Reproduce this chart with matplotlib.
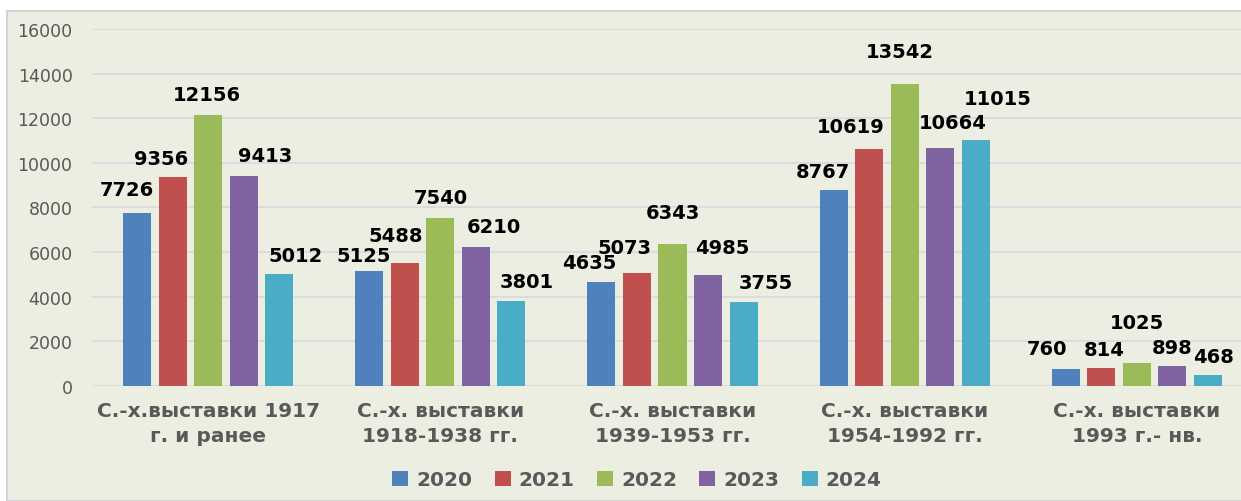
import numpy as np
import matplotlib
matplotlib.use('Agg')
import matplotlib.pyplot as plt
from matplotlib.patches import Rectangle, Patch

# Данные
categories = ['С.-х.выставки 1917\nг. и ранее', 'С.-х. выставки\n1918-1938 гг.',
              'С.-х. выставки\n1939-1953 гг.', 'С.-х. выставки\n1954-1992 гг.',
              'С.-х. выставки\n1993 г.- нв.']
years = ['2020', '2021', '2022', '2023', '2024']
v2020 = [7726, 5125, 4635, 8767, 760]
v2021 = [9356, 5488, 5073, 10619, 814]
v2022 = [12156, 7540, 6343, 13542, 1025]
v2023 = [9413, 6210, 4985, 10664, 898]
v2024 = [5012, 3801, 3755, 11015, 468]
series = [v2020, v2021, v2022, v2023, v2024]
colors = ['#4F81BD', '#C0504D', '#9BBB59', '#8064A2', '#4BACC6']

# смещения подписей (пиксели) - как в исходной диаграмме Excel
label_dx = [[-10, -5, -12, -11, -19], [-11, -9, -12, -18, 3], [-1, 1, 0, -5, 0],
            [21, 18, 14, 12, 0], [16, 15, 22, 22, 5]]
label_dy = [[24, 16, 20, 19, 20], [19, 28, 25, 22, 18], [20, 20, 32, 32, 40],
            [20, 21, 27, 25, 18], [18, 19, 19, 42, 19]]

W, H = 1241, 502
fig = plt.figure(figsize=(W / 100, H / 100), dpi=100)
fig.patch.set_facecolor('white')
bg = '#EBEEE0'
fig.patches.append(Rectangle((7 / W, 0), 1, 1 - 12 / H, transform=fig.transFigure,
                             facecolor=bg, edgecolor='#D4D4D4', lw=1.5, zorder=-5))

ax = fig.add_axes([92 / W, (H - 386.7) / H, 1161 / W, 356.7 / H])
ax.set_facecolor(bg)
ax.patch.set_alpha(0)

x = np.arange(len(categories))
pitch = 0.1533
width = 0.1206
for j, vals in enumerate(series):
    pos = x + (j - 2) * pitch
    ax.bar(pos, vals, width, color=colors[j], zorder=3, label=years[j])
    for i, v in enumerate(vals):
        ax.annotate(str(v), (pos[i], v), xytext=(label_dx[j][i], label_dy[j][i]),
                    textcoords='offset pixels', ha='center', va='center',
                    fontsize=14, fontweight='bold', color='black', zorder=4)

ax.set_xlim(-0.5, 4.5)
ax.set_ylim(0, 16000)
ax.set_yticks(range(0, 16001, 2000))
ax.grid(axis='y', color='#D9D9E0', lw=1.2, zorder=0)
for s in ax.spines.values():
    s.set_visible(False)
ax.tick_params(axis='y', length=0, pad=14, labelsize=12.5, labelcolor='#595959')
ax.tick_params(axis='x', length=0, pad=11, labelsize=14.5, labelcolor='#595959')
ax.set_xticks(x)
ax.set_xticklabels(categories, fontweight='bold', linespacing=1.4)

handles = [Patch(facecolor=c, label=y) for c, y in zip(colors, years)]
fig.legend(handles=handles, loc='center', bbox_to_anchor=(637 / W, 21 / H), ncol=5,
           frameon=False, handlelength=0.8, handleheight=0.8, handletextpad=0.4,
           columnspacing=1.1, prop={'size': 14.5, 'weight': 'bold'},
           labelcolor='#595959')

fig.savefig('out.png', dpi=100, facecolor=fig.get_facecolor())
